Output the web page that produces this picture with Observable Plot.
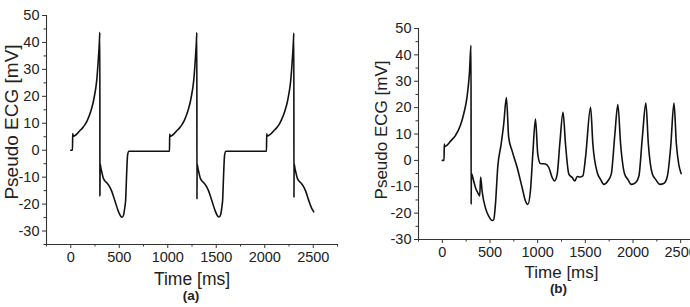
<!DOCTYPE html>
<html>
<head>
<meta charset="utf-8">
<script src="https://cdn.jsdelivr.net/npm/d3@7"></script>
<script src="https://cdn.jsdelivr.net/npm/@observablehq/plot@0.6"></script>
<style>
  html, body { margin: 0; padding: 0; background: #fff; overflow: hidden; width: 690px; height: 307px; }
  #wrap { position: relative; width: 690px; height: 307px; overflow: hidden; }
  #panel-a, #panel-b { position: absolute; top: 0; height: 307px; }
  #panel-a { left: 0; width: 345px; }
  #panel-b { left: 345px; width: 365px; }
  #wrap svg { display: block; max-width: none !important; }
</style>
</head>
<body>
<div id="wrap"><div id="panel-a"></div><div id="panel-b"></div></div>
<script>
// Time axis ticks (ms), shared by both panels
const xTicks = [0, 500, 1000, 1500, 2000, 2500];
const xMinorTicks = [-250, 250, 750, 1250, 1750, 2250, 2750];

// Panel (a): periodic pseudo ECG
const yTicksA = [-30, -20, -10, 0, 10, 20, 30, 40, 50];
const yMinorTicksA = [-35, -25, -15, -5, 5, 15, 25, 35, 45];
const timeA = [
  0, 18, 20, 26, 41, 70, 93, 120, 145, 170, 197, 215, 231, 245, 259, 268, 276, 283, 290, 295,
  300, 301, 303, 310, 318, 334, 350, 369, 400, 421, 455, 490, 515, 530, 545, 558, 566, 576, 586, 600,
  1018, 1020, 1026, 1041, 1070, 1093, 1120, 1145, 1170, 1197, 1215, 1231, 1245, 1259, 1268, 1276, 1283, 1290, 1295, 1300,
  1301, 1303, 1310, 1318, 1334, 1350, 1369, 1400, 1421, 1455, 1490, 1515, 1530, 1545, 1558, 1566, 1576, 1586, 1600,
  2018, 2020, 2026, 2041, 2070, 2093, 2120, 2145, 2170, 2197, 2215, 2231, 2245, 2259, 2268, 2276, 2283, 2290, 2295, 2300,
  2301, 2303, 2310, 2318, 2334, 2350, 2369, 2400, 2421, 2455, 2490, 2505
];
const ecgA = [
  0, 0, 6.2, 5.2, 5.4, 6.3, 7.2, 8.2, 9.4, 11, 13.4, 15.5, 17.7, 20.3, 23.3, 26, 29.5, 33, 36.9, 40,
  43.8, -17, -5, -6.5, -7.8, -10.2, -11.3, -12, -13.5, -15.1, -18.8, -22.6, -24.5, -24.9, -24, -21, -18.5, -9, -1.8, -0.4,
  -0.4, 6.0, 5.2, 5.4, 6.3, 7.2, 8.2, 9.4, 11, 13.4, 15.5, 17.7, 20.3, 23.3, 26, 29.5, 33, 36.9, 40, 43.7,
  -18.2, -5, -6.5, -7.8, -10.2, -11.3, -12, -13.5, -15.1, -18.8, -22.6, -24.5, -24.8, -24, -21, -18.5, -9, -1.8, -0.4,
  -0.4, 6.1, 5.3, 5.5, 6.3, 7.2, 8.2, 9.4, 11.1, 13.4, 15.5, 17.6, 20.2, 23.2, 26, 29.4, 33, 36.8, 40, 43.5,
  -17.6, -5, -6.5, -7.8, -10.2, -11.3, -12, -13.5, -15.1, -18.8, -22, -22.9
];

// Panel (b): pseudo ECG settling into a faster rhythm
const yTicksB = [-30, -20, -10, 0, 10, 20, 30, 40, 50];
const yMinorTicksB = [-25, -15, -5, 5, 15, 25, 35, 45];
const timeB = [
  0, 18, 20, 26, 50, 84, 137, 189, 224, 259,
  284, 301, 302, 305, 329, 347, 371, 392, 402, 417,
  452, 486, 522, 539, 557, 581, 617, 644, 672, 696,
  732, 785, 837, 872, 896, 924, 949, 977, 1001, 1029,
  1082, 1117, 1152, 1176, 1205, 1232, 1266, 1292, 1327, 1362,
  1390, 1415, 1442, 1474, 1502, 1555, 1579, 1625, 1660, 1694,
  1736, 1772, 1810, 1841, 1870, 1912, 1946, 1982, 2027, 2062,
  2098, 2135, 2161, 2203, 2237, 2283, 2321, 2360, 2395, 2430,
  2455, 2480, 2505
];
const ecgB = [
  0, 0, 6.2, 5.2, 5.8, 7.2, 9.4, 13.2, 17.6, 24,
  32.9, 43.6, -16.7, -5, -7.8, -10.3, -12.2, -13.5, -6.3, -11.6,
  -18, -21.1, -22.8, -22.5, -16.7, -2.7, 6.2, 13.8, 23.8, 8.7,
  3.6, -2.7, -10.3, -15.4, -16.7, -11.6, 2.4, 15.7, 2.4, -1.2,
  -1.4, -2.7, -6.5, -7.8, -5.2, 6.2, 18.2, 6.2, -5.2, -6.5,
  -7.8, -6.1, -6.3, -5.9, 1.1, 20.1, 6.2, -4.6, -7.2, -9.1,
  -7.8, -5.2, 10, 21.2, 6.2, -5.2, -7.2, -9.1, -8.4, -5.9,
  8.7, 21.7, 6.2, -5.2, -7.2, -9.1, -8.8, -6.1, 5, 21.7,
  6.2, -1.5, -5
];

const xLabel = "Time [ms]";
const yLabel = "Pseudo ECG [mV]";

const font = "'Liberation Sans', Arial, Helvetica, sans-serif";
const ink = "#333";

function ecgPanel(o) {
  const rows = o.time.map((t, i) => ({t, v: o.ecg[i]}));
  const [x0] = o.xDomain;
  const [y0] = o.yDomain;
  return Plot.plot({
    width: o.width,
    height: 307,
    marginLeft: o.ml, marginRight: o.mr, marginTop: o.mt, marginBottom: o.mb,
    x: {domain: o.xDomain},
    y: {domain: o.yDomain},
    style: {fontFamily: font, fontSize: "14.5px", color: "#222", background: "none", overflow: "visible", maxWidth: "none"},
    marks: [
      // axis lines
      Plot.ruleY([y0], {stroke: ink, strokeWidth: 1.1}),
      Plot.ruleX([x0], {stroke: ink, strokeWidth: 1.1}),
      // major and minor ticks
      Plot.axisX(xTicks, {tickSize: 4, tickPadding: 3, stroke: ink, fill: "#222", label: null, tickFormat: d => String(d)}),
      Plot.axisX(xMinorTicks, {tickSize: 2.5, text: null, stroke: ink, label: null}),
      Plot.axisY(o.yTicks, {tickSize: 4, tickPadding: 3, stroke: ink, fill: "#222", label: null, tickFormat: d => String(d)}),
      Plot.axisY(o.yMinor, {tickSize: 2.5, text: null, stroke: ink, label: null}),
      // the trace
      Plot.line(rows, {x: "t", y: "v", stroke: "#111", strokeWidth: 1.6, curve: "monotone-x"}),
      // axis titles and panel letter
      Plot.text([xLabel], {text: d => d, frameAnchor: "bottom", dy: o.xLabelDy, lineAnchor: "middle", fontSize: o.labelSize, fill: "#222"}),
      Plot.text([yLabel], {text: d => d, frameAnchor: "left", rotate: -90, dx: o.yLabelDx, dy: o.yLabelDy, lineAnchor: "middle", textAnchor: "middle", fontSize: o.yLabelSize, fill: "#222"}),
      Plot.text([o.letter], {text: d => d, frameAnchor: "bottom", dy: o.letterDy, dx: o.letterDx, lineAnchor: "middle", fontSize: 13.5, fontWeight: "bold", fill: "#222"})
    ]
  });
}

document.getElementById("panel-a").append(ecgPanel({
  time: timeA, ecg: ecgA, yTicks: yTicksA, yMinor: yMinorTicksA,
  xDomain: [-250, 2750], yDomain: [-35, 50],
  width: 345, ml: 46, mr: 8, mt: 15, mb: 63,
  labelSize: 17.5, yLabelSize: 19,
  xLabelDy: 35, yLabelDx: -35, yLabelDy: -8,
  letter: "(a)", letterDy: 51, letterDx: -1
}));

document.getElementById("panel-b").append(ecgPanel({
  time: timeB, ecg: ecgB, yTicks: yTicksB, yMinor: yMinorTicksB,
  xDomain: [-250, 2750], yDomain: [-30, 50],
  width: 365, ml: 73, mr: 6, mt: 28, mb: 68,
  labelSize: 17, yLabelSize: 17,
  xLabelDy: 33, yLabelDx: -37, yLabelDy: -4,
  letter: "(b)", letterDy: 49, letterDx: -3
}));
</script>
</body>
</html>
